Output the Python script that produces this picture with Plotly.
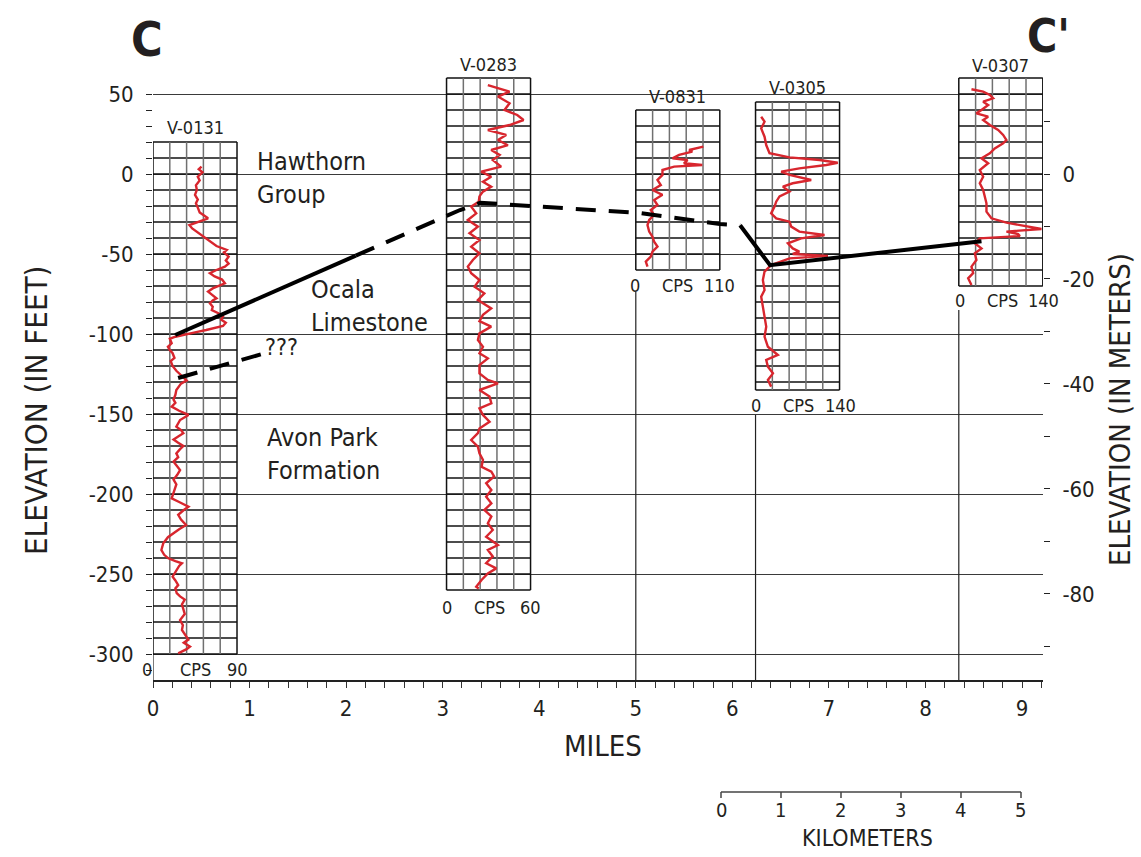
import plotly.graph_objects as go

# ---------------- data ----------------
well_names = ["V-0131", "V-0283", "V-0831", "V-0305", "V-0307"]
well_x_mi = [0.0, 3.04, 5.0, 6.24, 8.345]
well_top_ft = [20, 60, 40, 45, 60]
well_bot_ft = [-300, -260, -60, -135, -70]
well_cps_max = [90, 60, 110, 140, 140]

v0131_ft = [4.6, 3, 1, -1.7, -4, -7, -10, -13, -16, -18.3, -21, -24, -27.7, -30, -31.9, -34, -37, -40, -43.3,
            -45, -47.5, -49, -51.7, -54, -56, -57.9, -60, -62, -64, -66, -68.3, -70, -71.5, -73.5, -75, -77.7,
            -79, -80.8, -83, -85, -87, -89, -91, -93, -95, -96.5, -97.5, -99, -101.7, -103, -105.8, -108, -110,
            -112, -115, -117, -120, -123, -126, -129, -131, -135, -138, -141, -143, -145.4, -148, -150.6,
            -153.75, -156, -157.9, -160, -162, -164, -166, -168, -170, -172, -174.6, -177, -179.8, -182, -185,
            -188, -191, -194, -196.5, -199, -202.7, -205, -207.9, -210, -213, -216, -219.4, -222, -224.6, -227,
            -230.8, -235, -238, -240.2, -242, -243.3, -245, -247.5, -250, -251.7, -254, -256.9, -259, -262,
            -264, -266, -269, -272.5, -275, -278.8, -282, -285, -288, -291, -293, -295.4, -297, -299.6]
v0131_cps = [52, 49, 53, 48, 50, 46, 47, 45, 48, 46, 48, 50, 59, 48, 39, 42, 49, 56, 63,
             68, 79, 76, 81, 78, 81, 77, 68, 61, 66, 74, 77, 70, 64, 59, 62, 68,
             64, 61, 64, 63, 70, 75, 73, 78, 75, 62, 57, 45, 24, 18, 20, 16, 18,
             21, 23, 19, 21, 25, 31, 36, 30, 25, 24, 22, 24, 20, 28, 38,
             29, 27, 25, 30, 32.5, 27, 22, 27, 32.5, 29, 25, 27, 22, 25, 29,
             26, 22, 25, 23.6, 22, 20, 28, 38, 33, 27, 30, 35.4, 28, 22, 16,
             11, 9, 12, 16.4, 24, 31, 28, 25.4, 22, 21, 24, 27, 24, 25.4,
             29, 34, 31, 32.5, 34, 29, 32, 31, 34, 37.9, 33, 39.6, 36, 27]

v0283_ft = [55.6, 51.5, 48.4, 44.2, 40, 36.9, 33.75, 30.6, 27.5, 24.4, 21.25, 18, 15, 11.9, 8.75, 4.6, 1.5,
            -1.7, -4.8, -7.9, -11, -14, -17.3, -20.4, -24.6, -28.75, -32.9, -37, -41.25, -45.4, -49.6,
            -53.75, -57.9, -62, -66.25, -70.4, -74.6, -78.75, -84, -88, -92, -95.4, -99.6, -103.75, -108,
            -112, -115.2, -119.4, -124.6, -128.75, -130.8, -135, -139, -143.3, -146.5, -150.6, -154.8,
            -159, -162, -166.25, -170.4, -174.6, -178.75, -183, -186, -189, -193.3, -197.5, -201.7, -205.8,
            -210, -214, -218.3, -222.5, -226.7, -231.9, -235, -239, -243.3, -246.5, -249.6, -253.75, -258, -259]
v0283_cps = [29.5, 45, 36.7, 45, 41.4, 50.5, 55, 45, 29.5, 42.6, 36.7, 43.8, 31.9, 37.9, 33, 39, 24.8,
             31.9, 26, 31.9, 26, 23.5, 23, 17.6, 21.2, 15.2, 22.4, 16.4, 23.5, 17.6, 23.5,
             18.8, 15.2, 17.6, 23.5, 20, 27, 22.4, 31.9, 26, 23.5, 31.9, 23.5, 22.4, 26,
             23.5, 29.5, 23.5, 23.5, 29.5, 36.7, 23.5, 30.7, 32, 23.5, 26, 30.7,
             23.5, 22.4, 17.6, 22.4, 23.5, 26, 25, 32, 34, 28.3, 32, 28.3, 32,
             27, 32, 29.5, 33, 28.3, 36.7, 29.5, 33, 28.3, 35.5, 29.5, 25, 21.2, 23]

v0831_ft = [17.1, 15, 14, 11.9, 9.8, 8.75, 6.7, 5.6, 4.6, 2.5, -0.6, -3.75, -6.9, -10, -13, -16.25, -19.4,
            -22.5, -25.6, -28.75, -31.9, -36, -39.2, -42.3, -45.4, -48.5, -51.7, -54.8, -57.9]
v0831_cps = [88.4, 69.8, 74, 56.7, 48, 67.7, 63, 87, 50.2, 34.9, 34.9, 28.4, 32.7, 21.8, 34.9, 24, 28.4,
             19.6, 24, 17.5, 15.3, 17.5, 21.8, 24, 28.4, 21.8, 19.6, 13.1, 15.3]

v0305_ft = [35.8, 32.7, 28.5, 23.3, 18.1, 13, 10.4, 8.75, 7, 5.6, 3.5, 1.5, -0.6, -2.7, -3.75, -5.8, -7.9,
            -11, -14, -17.3, -20.4, -24.6, -27.7, -29.8, -32.9, -36, -38.1, -40.2, -43.3, -46.5, -48.5, -50,
            -51.2, -52.7, -56.9, -61, -66.25, -72.5, -76.7, -82.9, -89.2, -95.4, -101.7, -108, -113.1,
            -116.25, -120.4, -124.6, -128.75, -132.9]
v0305_cps = [9.4, 15, 9.4, 15, 17.8, 23.3, 56.7, 106.7, 137, 117.8, 73, 42.8, 56.7, 78.9, 92.8, 62, 45.6,
             56.7, 40, 34.4, 31.7, 26, 34.4, 56.7, 59.4, 73, 115, 76, 53.9, 62, 73, 62,
             120.6, 56.7, 26, 15, 12.2, 15, 9.4, 12.2, 15, 17.8, 15, 20.6, 37.2,
             17.8, 20.6, 29, 20.6, 26]

v0307_ft = [53, 51.5, 49.4, 47.3, 45.2, 43.1, 40, 37.9, 35.8, 33.75, 30.6, 27.5, 24.4, 21.25, 19.2, 16, 12.9,
            9.8, 6.7, 2.5, -1.7, -5.8, -10, -14, -18.3, -23.5, -27.7, -30.4, -32.9, -34.4, -36, -37.5,
            -38.75, -40.2, -43.3, -46.5, -49.6, -53.75, -57.9, -62, -65.2, -69.4]
v0307_cps = [21.1, 40.6, 51.7, 57.2, 40.6, 48.9, 37.8, 29.4, 48.9, 40.6, 51.7, 65.6, 73.9, 79.4, 73.9, 60, 51.7,
             37.8, 48.9, 35, 40.6, 35, 40.6, 43.3, 46.1, 46.1, 54.4, 79.4, 118.3, 137.8, 79.4, 98.9,
             101.7, 35, 26.7, 37.8, 26.7, 29.4, 21.1, 23.9, 15.6, 21.1]

log_ft = [v0131_ft, v0283_ft, v0831_ft, v0305_ft, v0307_ft]
log_cps = [v0131_cps, v0283_cps, v0831_cps, v0305_cps, v0307_cps]

# Contacts (miles, feet)
upper_solid_a_mi = [0.23, 2.1]
upper_solid_a_ft = [-100.6, -51.0]
upper_dash_mi = [2.1, 3.18, 3.39, 4.06, 5.04, 5.87, 6.08]
upper_dash_ft = [-51.0, -22.5, -18.0, -20.6, -24.4, -31.3, -32.0]
upper_solid_b_mi = [6.08, 6.39, 8.58]
upper_solid_b_ft = [-32.0, -57.0, -42.0]
lower_dash_mi = [0.26, 1.13]
lower_dash_ft = [-127.5, -112.5]

y_ft_ticks = [50, 0, -50, -100, -150, -200, -250, -300]
y_m_ticks = [0, -20, -40, -60, -80]
x_mile_ticks = [0, 1, 2, 3, 4, 5, 6, 7, 8, 9]
km_ticks = [0, 1, 2, 3, 4, 5]

# ---------------- layout constants ----------------
LOG_W = 0.87
FT_PER_M = 3.28084
MI_PER_KM = 0.621371
XMAX = 9.217
YMIN, YMAX = -316.25, 63.75
PX_PER_MI = 96.56
stem_top_ft = [-300, None, -73.75, -150.6, -85]

FONT = "DejaVu Sans Condensed, Liberation Sans Narrow, sans-serif"
INK = "#231f20"
RED = "#d8262e"

# plot area in pixels: x 153..1043, y 72..680
PL, PR, PT, PB = 153, 1043, 72, 680


def PX(px):
    return (px - PL) / (PR - PL)


def PY(py):
    return (PB - py) / (PB - PT)


fig = go.Figure()

# log grids
for i, name in enumerate(well_names):
    x0 = well_x_mi[i]
    top, bot = well_top_ft[i], well_bot_ft[i]
    rows = [top] + [v for v in range(-400, 100, 10) if bot < v < top] + [bot]
    hx, hy = [], []
    for r in rows:
        hx += [x0, x0 + LOG_W, None]
        hy += [r, r, None]
    fig.add_trace(go.Scatter(x=hx, y=hy, mode="lines", line=dict(color="#111", width=1.3),
                             hoverinfo="skip", showlegend=False))
    gx, gy = [], []
    for k in range(1, 5):
        xv = x0 + LOG_W * k / 5
        gx += [xv, xv, None]
        gy += [bot, top, None]
    fig.add_trace(go.Scatter(x=gx, y=gy, mode="lines", line=dict(color="#707070", width=1.5),
                             hoverinfo="skip", showlegend=False))
    ox = [x0, x0, None, x0 + LOG_W, x0 + LOG_W]
    oy = [bot, top, None, bot, top]
    fig.add_trace(go.Scatter(x=ox, y=oy, mode="lines", line=dict(color="#111", width=1.5),
                             hoverinfo="skip", showlegend=False))
    if stem_top_ft[i] is not None:
        fig.add_trace(go.Scatter(x=[x0, x0], y=[stem_top_ft[i], YMIN], mode="lines",
                                 line=dict(color="#222", width=1.2), hoverinfo="skip", showlegend=False))

# gamma logs
for i, name in enumerate(well_names):
    x0 = well_x_mi[i]
    cmax = well_cps_max[i]
    xs = [x0 + c / cmax * LOG_W for c in log_cps[i]]
    fig.add_trace(go.Scatter(x=xs, y=log_ft[i], mode="lines", line=dict(color=RED, width=2.4),
                             name=name, showlegend=False))

# contacts
solid = dict(color="black", width=4)
dashed = dict(color="black", width=4, dash="20px,13px")
fig.add_trace(go.Scatter(x=upper_solid_a_mi, y=upper_solid_a_ft, mode="lines", line=solid, showlegend=False))
fig.add_trace(go.Scatter(x=upper_dash_mi, y=upper_dash_ft, mode="lines", line=dashed, showlegend=False))
fig.add_trace(go.Scatter(x=upper_solid_b_mi, y=upper_solid_b_ft, mode="lines", line=solid, showlegend=False))
fig.add_trace(go.Scatter(x=lower_dash_mi, y=lower_dash_ft, mode="lines", line=dashed, showlegend=False))

# dummy for secondary axis
fig.add_trace(go.Scatter(x=[None], y=[None], yaxis="y2", showlegend=False, hoverinfo="skip"))

ann = []


def txt(px, py, t, size, xanchor="center", yanchor="middle", bold=False, angle=0, align="center"):
    ann.append(dict(x=PX(px), y=PY(py), xref="paper", yref="paper", text=(f"<b>{t}</b>" if bold else t),
                    showarrow=False, xanchor=xanchor, yanchor=yanchor, textangle=angle, align=align,
                    font=dict(family=FONT, size=size, color=INK)))


txt(147, 39, "C", 48, bold=True)
txt(1048, 36, "C'", 46, bold=True)

well_label_px = [(195, 128), (488, 64), (677, 97), (797, 88), (1000, 66)]
for (px, py), name in zip(well_label_px, well_names):
    txt(px, py, name, 18)

cps_label_px = [(147, 195, 237, 669), (447, 489, 530, 607), (635, 677, 719, 285),
                (756, 798, 840, 405), (960, 1002, 1043, 300)]
for (p0, pc, p1, py), cmax in zip(cps_label_px, well_cps_max):
    txt(p0, py, "0", 18)
    txt(pc, py, "CPS", 18)
    txt(p1, py, str(cmax), 18)

txt(255, 178, "Hawthorn<br>Group", 25, xanchor="left", align="left")
txt(309, 306, "Ocala<br>Limestone", 25, xanchor="left", align="left")
txt(263, 347, "???", 23, xanchor="left", align="left")
txt(265, 454, "Avon Park<br>Formation", 25, xanchor="left", align="left")

txt(36, 411, "ELEVATION (IN FEET)", 31, angle=-90)
txt(1120, 410, "ELEVATION (IN METERS)", 29, angle=-90)
txt(603, 746, "MILES", 29)

# kilometre scale bar (paper coords)
km0_px = 721
shapes = []


def km_px(k):
    return km0_px + k * MI_PER_KM * PX_PER_MI


shapes.append(dict(type="line", xref="paper", yref="paper", x0=PX(km_px(km_ticks[0])), x1=PX(km_px(km_ticks[-1])),
                   y0=PY(792), y1=PY(792), line=dict(color="#444", width=1.5)))
for k in km_ticks:
    shapes.append(dict(type="line", xref="paper", yref="paper", x0=PX(km_px(k)), x1=PX(km_px(k)),
                       y0=PY(792), y1=PY(798), line=dict(color="#444", width=1.5)))
    txt(km_px(k), 810, str(k), 20)
txt(867, 838, "KILOMETERS", 23)

fig.update_layout(
    width=1141, height=857, autosize=False,
    margin=dict(l=PL, r=1141 - PR, t=PT, b=857 - PB, pad=0),
    plot_bgcolor="white", paper_bgcolor="white",
    showlegend=False,
    annotations=ann, shapes=shapes,
    xaxis=dict(range=[0, XMAX], tickvals=x_mile_ticks, ticks="outside", ticklen=6, tickwidth=1.2,
               tickcolor="#333", showline=True, linecolor="#222", linewidth=1.5, showgrid=False,
               zeroline=False, tickfont=dict(family=FONT, size=22, color=INK), ticklabelstandoff=2,
               minor=dict(tickmode="linear", tick0=0, dtick=0.2, ticks="outside", ticklen=6,
                          tickcolor="#333", tickwidth=1.2, showgrid=False)),
    yaxis=dict(range=[YMIN, YMAX], tickvals=y_ft_ticks, ticktext=[str(v) for v in y_ft_ticks],
               ticks="outside", ticklen=6, tickwidth=1.2,
               tickcolor="#222", showline=False, showgrid=True, gridcolor="#3a3a3a", gridwidth=1,
               zeroline=False, tickfont=dict(family=FONT, size=22, color=INK), ticklabelstandoff=8,
               minor=dict(tickmode="array", tickvals=list(range(-310, 51, 10)), ticks="outside", ticklen=6,
                          tickcolor="#222", tickwidth=1.2, showgrid=False)),
    yaxis2=dict(overlaying="y", side="right", range=[YMIN / FT_PER_M, YMAX / FT_PER_M], tickvals=y_m_ticks,
                ticktext=[str(v) for v in y_m_ticks],
                ticks="outside", ticklen=6, tickwidth=1.2, tickcolor="#222", showline=False, showgrid=False,
                zeroline=False, tickfont=dict(family=FONT, size=22, color=INK), ticklabelstandoff=8,
                minor=dict(tickmode="array", tickvals=[10, -10, -30, -50, -70, -90], ticks="outside",
                           ticklen=6, tickcolor="#222", tickwidth=1.2, showgrid=False)),
)

fig.write_html("out.html")
